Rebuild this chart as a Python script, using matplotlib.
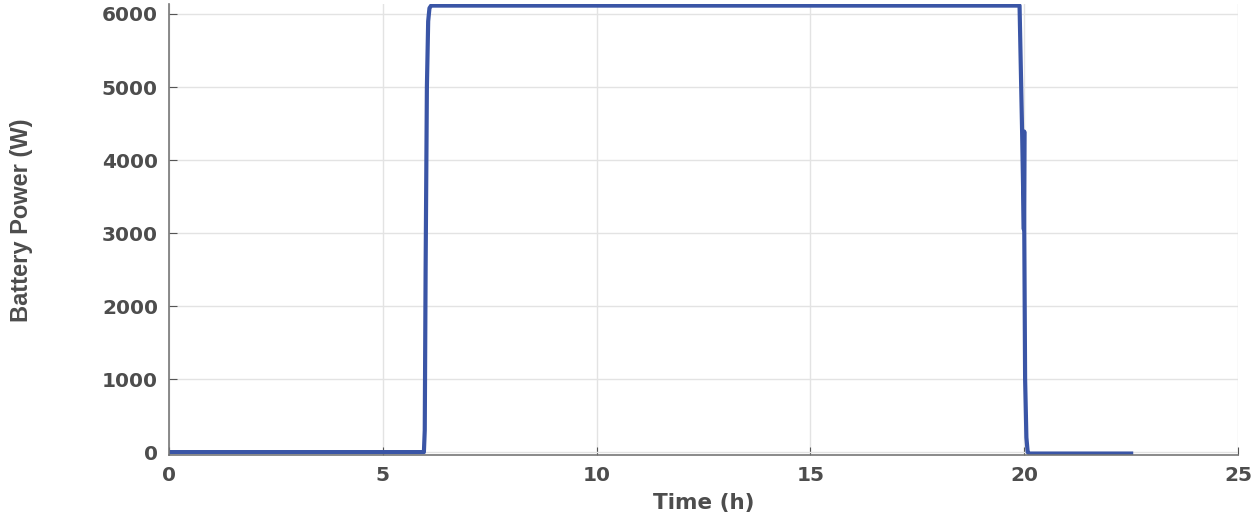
import matplotlib.pyplot as plt

# Datos
time_h = [0, 5.96, 5.98, 6.0, 6.03, 6.06, 6.09, 6.13, 19.89, 19.95, 19.99, 20.0, 20.0,
          20.02, 20.05, 20.08, 20.12, 22.5]
battery_w = [0, 0, 300, 2500, 5000, 5900, 6080, 6115, 6115, 4380, 3050, 4390, 3050,
             1000, 200, 0, -20, -20]

x_ticks = [0, 5, 10, 15, 20, 25]
y_ticks = [0, 1000, 2000, 3000, 4000, 5000, 6000]

fig = plt.figure(figsize=(12.55, 5.17), dpi=100)
ax = fig.add_axes([0.1347, 0.1199, 0.8518, 0.8714])

ax.plot(time_h, battery_w, color='#3a55a6', linewidth=3.0)

ax.set_xlim(0, 25)
ax.set_ylim(-40, 6130)
ax.set_xticks(x_ticks)
ax.set_yticks(y_ticks)
ax.grid(True, color='#e3e3e3', linewidth=1.0)
ax.set_axisbelow(True)

for s in ['top', 'right']:
    ax.spines[s].set_visible(False)
for s in ['left', 'bottom']:
    ax.spines[s].set_color('#777777')
    ax.spines[s].set_linewidth(1.2)

ax.tick_params(axis='both', direction='in', length=6, color='#555555',
               labelsize=14.5, labelcolor='#4d4d4d', pad=8)
for lab in ax.get_xticklabels() + ax.get_yticklabels():
    lab.set_fontweight('bold')

ax.set_xlabel('Time (h)', fontsize=15.5, fontweight='bold', color='#4d4d4d', labelpad=6)
ax.set_ylabel('Battery Power (W)', fontsize=17, fontweight='bold', color='#4d4d4d',
              family=['Liberation Sans', 'DejaVu Sans'])
ax.yaxis.set_label_coords(-0.127, 0.52)

plt.savefig('out.png', dpi=100)
